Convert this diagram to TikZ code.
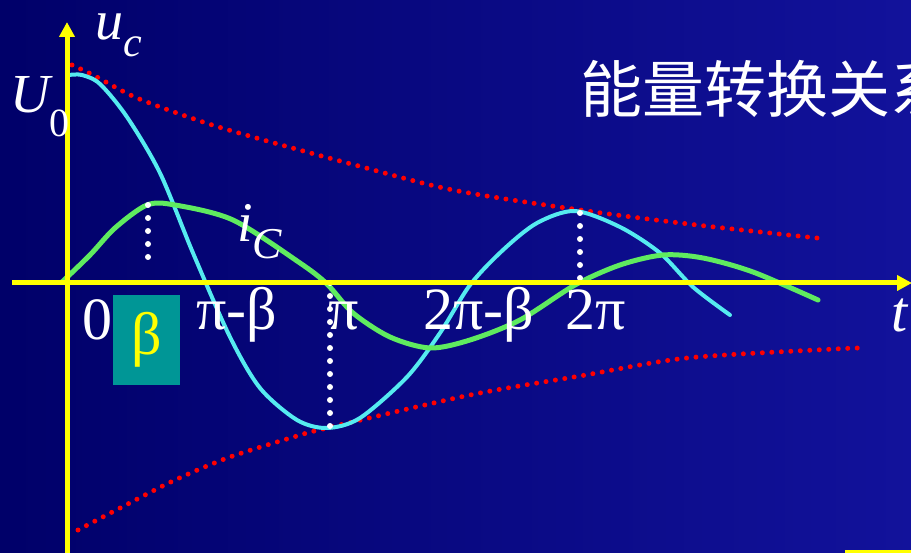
\documentclass[tikz,border=0pt]{standalone}
\usepackage{fontspec}
\setmainfont{Liberation Serif}
\newfontfamily\cjk{Noto Sans CJK SC}
\usepackage{tikz}
\usetikzlibrary{arrows.meta,positioning}
\usepackage{xcolor}

\definecolor{bgdark}{RGB}{0,0,105}
\definecolor{bglight}{RGB}{18,18,155}
\definecolor{axisyellow}{RGB}{255,255,0}
\definecolor{uccyan}{RGB}{85,235,240}
\definecolor{icgreen}{RGB}{95,235,95}
\definecolor{envred}{RGB}{255,0,0}
\definecolor{betateal}{RGB}{0,150,150}

\newcommand{\fsz}[1]{\fontsize{#1}{#1}\selectfont}

\begin{document}
\begin{tikzpicture}[
    x=1pt, y=-1pt,
    axis/.style={draw=axisyellow, line width=5pt, -{Triangle[length=15pt,width=15pt]}},
    envelope/.style={draw=envred, line width=5pt, line cap=round, dash pattern=on 0pt off 9.5pt},
    marker/.style={draw=white, line width=6pt, line cap=round, dash pattern=on 0pt off 13pt},
    ucurve/.style={draw=uccyan, line width=4pt, line cap=round},
    icurve/.style={draw=icgreen, line width=5pt, line cap=round},
    tick/.style={text=white, font=\fsz{60}, inner sep=0pt, anchor=base},
    varlabel/.style={text=white, font=\fsz{56}\itshape, inner sep=0pt, anchor=base}
  ]
    \useasboundingbox (0,0) rectangle (911,553);
    \shade[left color=bgdark, right color=bglight] (0,0) rectangle (911,553);
    \fill[axisyellow] (845,550) rectangle (911,553);

    \coordinate (O) at (67,283);
    \coordinate (ytop) at (67,22);
    \coordinate (ybot) at (67,556);
    \coordinate (xleft) at (12,283);
    \coordinate (xright) at (912,283);

    % envelopes
    \draw[envelope] plot[smooth] coordinates {(72,65) (93,75) (137,98) (203,122) (260,139) (355,165) (453,190) (580,210) (697,225) (817,238)};
    \draw[envelope] plot[smooth] coordinates {(78,530) (122,507) (175,480) (230,457) (297,436) (327,428) (470,395) (580,376) (687,358) (835,349) (865,348)};

    % u_c and i_C
    \draw[ucurve] plot[smooth] coordinates {(69,75) (82,75) (100,84) (127,117) (160,173) (193,253) (230,337) (260,388) (297,420) (327,428) (360,418) (407,377) (440,333) (470,285) (503,250) (537,223) (575,211) (620,227) (660,253) (693,287) (730,315)};
    \draw[icurve] plot[smooth] coordinates {(62,282) (90,255) (115,228) (147,205) (175,205) (233,220) (300,263) (327,284) (353,313) (390,337) (430,348) (470,340) (520,320) (575,285) (620,265) (663,255) (703,258) (753,272) (818,300)};

    \coordinate (peakA) at (148,205);
    \coordinate (footA) at (148,270);
    \coordinate (dipB) at (330,428);
    \coordinate (footB) at (330,283);
    \coordinate (peakC) at (580,213);
    \coordinate (footC) at (580,278);
    \draw[marker] (peakA) -- (footA);
    \draw[marker] (footB) -- (dipB);
    \draw[marker] (peakC) -- (footC);

    % axes
    \draw[axis] (ybot) -- (ytop);
    \draw[axis] (xleft) -- (xright);

    % labels
    \node[tick] (zero) at (97,340) {0};
    \node[fill=betateal, minimum width=67pt, minimum height=90pt, inner sep=0pt,
          text=axisyellow, font=\fsz{60}] (beta) at (146.5,340) {β};
    \node[tick] (pimb) at (237,330) {π-β};
    \node[tick] (pi) at (344,330) {π};
    \node[tick] (tpimb) at (479,330) {2π-β};
    \node[tick] (tpi) at (596,330) {2π};
    \node[varlabel, font=\fsz{58}\itshape] (tlab) at (900,332) {t};
    \node[varlabel, font=\fsz{55}\itshape, anchor=base west] (Ulab) at (10,113)
      {U\raisebox{-0.42em}{\fsz{40}\upshape 0}};
    \node[varlabel, anchor=base west] (uclab) at (95,40)
      {u\raisebox{-0.3em}{\fsz{42}c}};
    \node[varlabel, anchor=base west] (iclab) at (237,242)
      {i\raisebox{-0.3em}{\fsz{44}C}};
    \node[text=white, font=\cjk\fsz{62}, inner sep=0pt, anchor=west] (title) at (580,89) {能量转换关系};
\end{tikzpicture}
\end{document}
